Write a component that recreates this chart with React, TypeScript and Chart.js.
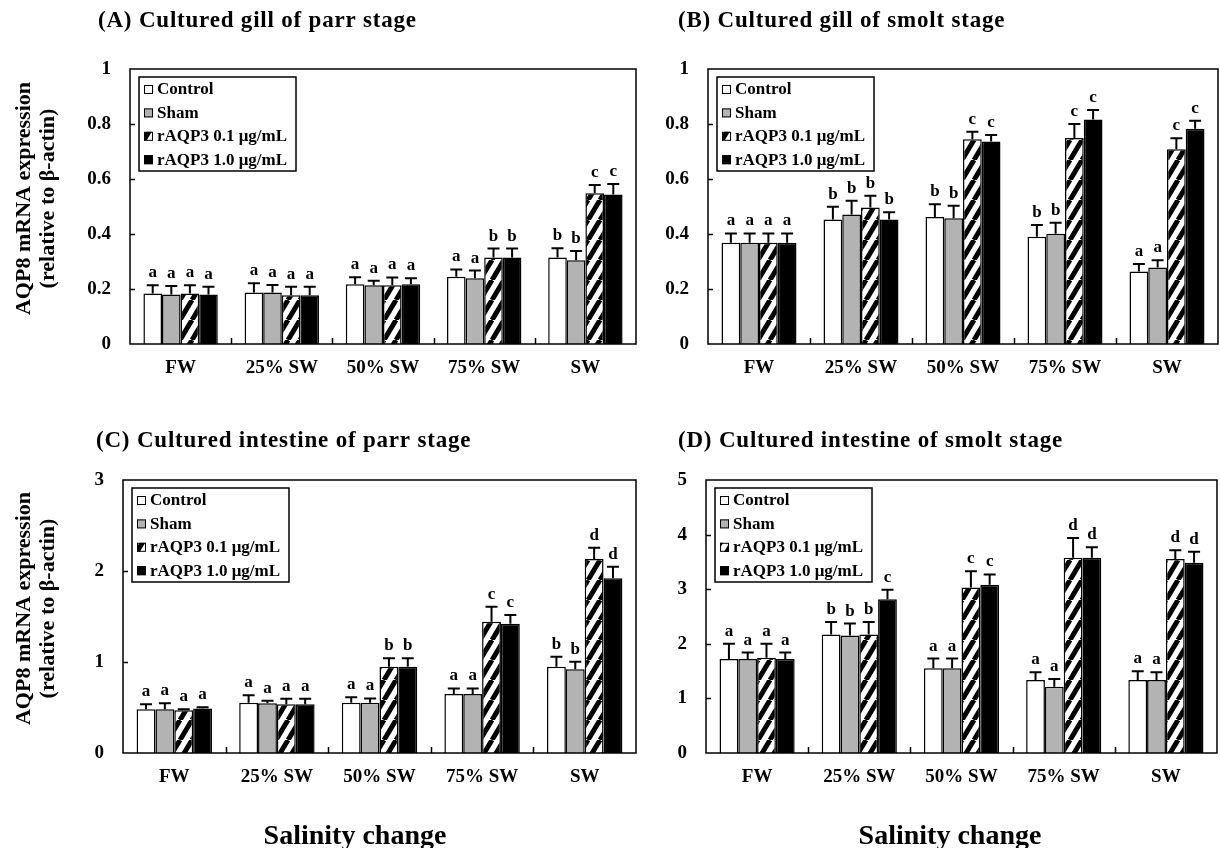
import React, { useEffect, useRef } from "react";
import { Chart, registerables } from "chart.js";
Chart.register(...registerables);

const categories = ["FW", "25% SW", "50% SW", "75% SW", "SW"];
const seriesNames = ["Control", "Sham", "rAQP3 0.1 μg/mL", "rAQP3 1.0 μg/mL"];

// (A) Cultured gill of parr stage
const aControl = [0.184, 0.187, 0.217, 0.245, 0.315];
const aSham = [0.18, 0.187, 0.214, 0.239, 0.305];
const aLow = [0.184, 0.177, 0.214, 0.315, 0.548];
const aHigh = [0.18, 0.177, 0.217, 0.315, 0.544];
const aControlErr = [0.03, 0.034, 0.026, 0.026, 0.033];
const aShamErr = [0.031, 0.028, 0.016, 0.028, 0.033];
const aLowErr = [0.03, 0.031, 0.028, 0.032, 0.03];
const aHighErr = [0.028, 0.031, 0.022, 0.032, 0.038];
const aControlLet = ["a", "a", "a", "a", "b"];
const aShamLet = ["a", "a", "a", "a", "b"];
const aLowLet = ["a", "a", "a", "b", "c"];
const aHighLet = ["a", "a", "a", "b", "c"];

// (B) Cultured gill of smolt stage
const bControl = [0.368, 0.453, 0.462, 0.39, 0.264];
const bSham = [0.368, 0.471, 0.457, 0.401, 0.278];
const bLow = [0.368, 0.496, 0.745, 0.749, 0.708];
const bHigh = [0.368, 0.453, 0.736, 0.816, 0.783];
const bControlErr = [0.034, 0.046, 0.046, 0.043, 0.027];
const bShamErr = [0.034, 0.05, 0.046, 0.04, 0.027];
const bLowErr = [0.034, 0.043, 0.027, 0.051, 0.04];
const bHighErr = [0.034, 0.026, 0.024, 0.035, 0.029];
const bControlLet = ["a", "b", "b", "b", "a"];
const bShamLet = ["a", "b", "b", "b", "a"];
const bLowLet = ["a", "b", "c", "c", "c"];
const bHighLet = ["a", "b", "c", "c", "c"];

// (C) Cultured intestine of parr stage
const cControl = [0.48, 0.553, 0.553, 0.648, 0.949];
const cSham = [0.48, 0.546, 0.553, 0.648, 0.919];
const cLow = [0.47, 0.535, 0.949, 1.443, 2.132];
const cHigh = [0.49, 0.535, 0.949, 1.421, 1.92];
const cControlErr = [0.055, 0.081, 0.059, 0.062, 0.11];
const cShamErr = [0.066, 0.029, 0.047, 0.062, 0.084];
const cLowErr = [0.01, 0.062, 0.091, 0.165, 0.124];
const cHighErr = [0.012, 0.062, 0.091, 0.095, 0.127];
const cControlLet = ["a", "a", "a", "a", "b"];
const cShamLet = ["a", "a", "a", "a", "b"];
const cLowLet = ["a", "a", "b", "c", "d"];
const cHighLet = ["a", "a", "b", "c", "d"];

// (D) Cultured intestine of smolt stage
const dControl = [1.72, 2.17, 1.55, 1.337, 1.337];
const dSham = [1.72, 2.15, 1.55, 1.215, 1.337];
const dLow = [1.745, 2.17, 3.03, 3.577, 3.553];
const dHigh = [1.72, 2.815, 3.08, 3.577, 3.485];
const dControlErr = [0.28, 0.23, 0.18, 0.14, 0.16];
const dShamErr = [0.12, 0.22, 0.18, 0.14, 0.14];
const dLowErr = [0.255, 0.23, 0.3, 0.36, 0.16];
const dHighErr = [0.12, 0.175, 0.19, 0.19, 0.2];
const dControlLet = ["a", "b", "a", "a", "a"];
const dShamLet = ["a", "b", "a", "a", "a"];
const dLowLet = ["a", "b", "c", "d", "d"];
const dHighLet = ["a", "c", "c", "d", "d"];

const yTitleLines = ["AQP8 mRNA expression", "(relative to β-actin)"];
const xTitle = "Salinity change";

const SERIF = "'Liberation Serif', 'Times New Roman', serif";

type Panel = {
  title: string;
  yMax: number;
  yStep: number;
  values: number[][];
  errors: number[][];
  letters: string[][];
  canvas: { left: number; top: number; w: number; h: number };
  area: { l: number; t: number; r: number; b: number };
  titlePos: [number, number];
  yTitle: boolean;
  xTitlePos: [number, number] | null;
};

const panels: Panel[] = [
  {
    title: "(A) Cultured gill of parr stage",
    yMax: 1, yStep: 0.2,
    values: [aControl, aSham, aLow, aHigh],
    errors: [aControlErr, aShamErr, aLowErr, aHighErr],
    letters: [aControlLet, aShamLet, aLowLet, aHighLet],
    canvas: { left: 0, top: 0, w: 650, h: 400 },
    area: { l: 130, t: 69, r: 636, b: 344 },
    titlePos: [98, 27],
    yTitle: true,
    xTitlePos: null,
  },
  {
    title: "(B) Cultured gill of smolt stage",
    yMax: 1, yStep: 0.2,
    values: [bControl, bSham, bLow, bHigh],
    errors: [bControlErr, bShamErr, bLowErr, bHighErr],
    letters: [bControlLet, bShamLet, bLowLet, bHighLet],
    canvas: { left: 650, top: 0, w: 570, h: 400 },
    area: { l: 58, t: 69, r: 568, b: 344 },
    titlePos: [28, 27],
    yTitle: false,
    xTitlePos: null,
  },
  {
    title: "(C) Cultured intestine of parr stage",
    yMax: 3, yStep: 1,
    values: [cControl, cSham, cLow, cHigh],
    errors: [cControlErr, cShamErr, cLowErr, cHighErr],
    letters: [cControlLet, cShamLet, cLowLet, cHighLet],
    canvas: { left: 0, top: 400, w: 650, h: 448 },
    area: { l: 123, t: 80, r: 636, b: 353 },
    titlePos: [96, 47],
    yTitle: true,
    xTitlePos: [355, 444],
  },
  {
    title: "(D) Cultured intestine of smolt stage",
    yMax: 5, yStep: 1,
    values: [dControl, dSham, dLow, dHigh],
    errors: [dControlErr, dShamErr, dLowErr, dHighErr],
    letters: [dControlLet, dShamLet, dLowLet, dHighLet],
    canvas: { left: 650, top: 400, w: 570, h: 448 },
    area: { l: 56, t: 80, r: 567, b: 353 },
    titlePos: [28, 47],
    yTitle: false,
    xTitlePos: [300, 444],
  },
];

function makePattern(): CanvasPattern | string {
  const c = document.createElement("canvas");
  const w = 12, h = 20;
  c.width = w;
  c.height = h;
  const g = c.getContext("2d");
  if (!g) return "#888";
  g.fillStyle = "#fff";
  g.fillRect(0, 0, w, h);
  g.strokeStyle = "#000";
  g.lineWidth = 5;
  for (const dx of [-w, 0, w]) {
    g.beginPath();
    g.moveTo(dx, h);
    g.lineTo(dx + w, 0);
    g.stroke();
  }
  return g.createPattern(c, "repeat") || "#888";
}

function makePlugin(p: Panel, fills: (string | CanvasPattern)[]) {
  return {
    id: "panelExtras",
    afterDraw(chart: any) {
      const ctx: any = chart.ctx;
      const area = chart.chartArea;
      const xs = chart.scales.x;
      const ys = chart.scales.y;
      ctx.save();
      ctx.strokeStyle = "#000";
      ctx.fillStyle = "#000";
      // frame
      ctx.lineWidth = 1.5;
      ctx.strokeRect(area.left, area.top, area.right - area.left, area.bottom - area.top);
      // y ticks (inward)
      for (let v = p.yStep; v < p.yMax - 1e-9; v += p.yStep) {
        const y = Math.round(ys.getPixelForValue(v)) + 0.5;
        ctx.beginPath();
        ctx.moveTo(area.left, y);
        ctx.lineTo(area.left + 5, y);
        ctx.stroke();
      }
      // x category separators (inward)
      for (let i = 1; i < categories.length; i++) {
        const x = Math.round((xs.getPixelForValue(i - 1) + xs.getPixelForValue(i)) / 2) + 0.5;
        ctx.beginPath();
        ctx.moveTo(x, area.bottom);
        ctx.lineTo(x, area.bottom - 6);
        ctx.stroke();
      }
      // error bars and letters
      ctx.font = `bold 17px ${SERIF}`;
      ctx.textAlign = "center";
      ctx.textBaseline = "alphabetic";
      for (let s = 0; s < 4; s++) {
        const meta = chart.getDatasetMeta(s);
        for (let j = 0; j < categories.length; j++) {
          const bar = meta.data[j];
          const x = bar.x;
          const v = p.values[s][j];
          const e = p.errors[s][j];
          const y0 = ys.getPixelForValue(v);
          const y1 = ys.getPixelForValue(v + e);
          ctx.lineWidth = 2;
          ctx.beginPath();
          ctx.moveTo(x, y0);
          ctx.lineTo(x, y1);
          ctx.moveTo(x - 6, y1);
          ctx.lineTo(x + 6, y1);
          ctx.stroke();
          ctx.fillText(p.letters[s][j], x, y1 - 8);
        }
      }
      // legend
      const bx = area.left + 9;
      const by = area.top + 8;
      const bw = 157;
      const bh = 94;
      ctx.lineWidth = 1.5;
      ctx.fillStyle = "#fff";
      ctx.fillRect(bx, by, bw, bh);
      ctx.strokeRect(bx, by, bw, bh);
      ctx.font = `bold 17px ${SERIF}`;
      ctx.textAlign = "left";
      ctx.textBaseline = "middle";
      for (let s = 0; s < 4; s++) {
        const cy = by + 12 + s * 23.4;
        ctx.fillStyle = fills[s];
        ctx.fillRect(bx + 5, cy - 4, 9, 9);
        ctx.lineWidth = 1;
        ctx.strokeRect(bx + 5.5, cy - 3.5, 8, 8);
        ctx.fillStyle = "#000";
        ctx.fillText(seriesNames[s], bx + 18, cy + 1);
      }
      // panel title
      ctx.font = `bold 23px ${SERIF}`;
      ctx.textAlign = "left";
      ctx.textBaseline = "alphabetic";
      if ("letterSpacing" in ctx) ctx.letterSpacing = "0.8px";
      ctx.fillText(p.title, p.titlePos[0], p.titlePos[1]);
      if ("letterSpacing" in ctx) ctx.letterSpacing = "0px";
      // y axis title
      if (p.yTitle) {
        const cy = (area.top + area.bottom) / 2 - 8;
        ctx.font = `bold 22px ${SERIF}`;
        ctx.textAlign = "center";
        ctx.textBaseline = "middle";
        const xsPos = [24, 48];
        for (let k = 0; k < 2; k++) {
          ctx.save();
          ctx.translate(xsPos[k], cy);
          ctx.rotate(-Math.PI / 2);
          ctx.fillText(yTitleLines[k], 0, 0);
          ctx.restore();
        }
      }
      // x axis title
      if (p.xTitlePos !== null) {
        ctx.font = `bold 28px ${SERIF}`;
        ctx.textAlign = "center";
        ctx.textBaseline = "alphabetic";
        ctx.fillText(xTitle, p.xTitlePos[0], p.xTitlePos[1]);
      }
      ctx.restore();
    },
  };
}

function PanelChart({ p }: { p: Panel }) {
  const ref = useRef<HTMLCanvasElement | null>(null);
  useEffect(() => {
    if (!ref.current) return;
    const hatch = makePattern();
    const fills: (string | CanvasPattern)[] = ["#ffffff", "#b3b3b3", hatch, "#000000"];
    const chart = new Chart(ref.current, {
      type: "bar",
      data: {
        labels: categories,
        datasets: seriesNames.map((name, s) => ({
          label: name,
          data: p.values[s],
          backgroundColor: fills[s] as any,
          borderColor: "#000",
          borderWidth: 1.5,
          categoryPercentage: 0.735,
          barPercentage: 1,
        })),
      },
      options: {
        responsive: false,
        animation: false,
        devicePixelRatio: 1,
        layout: {
          padding: {
            left: 0,
            top: p.area.t,
            right: p.canvas.w - p.area.r,
            bottom: 0,
          },
        },
        plugins: {
          legend: { display: false },
          title: { display: false },
          tooltip: { enabled: false },
        },
        scales: {
          x: {
            type: "category",
            grid: { display: false, drawTicks: false },
            border: { display: false },
            ticks: {
              color: "#000",
              font: { family: SERIF, size: 19, weight: "bold" },
              padding: 13,
              maxRotation: 0,
              autoSkip: false,
            },
            afterFit: (scale: any) => {
              scale.height = p.canvas.h - p.area.b;
            },
          },
          y: {
            min: 0,
            max: p.yMax,
            grid: { display: false, drawTicks: false },
            border: { display: false },
            ticks: {
              stepSize: p.yStep,
              color: "#000",
              font: { family: SERIF, size: 19, weight: "bold" },
              padding: 19,
              callback: (v: any) => String(+Number(v).toFixed(1)),
            },
            afterFit: (scale: any) => {
              scale.width = p.area.l;
            },
          },
        },
      },
      plugins: [makePlugin(p, fills)],
    } as any);
    return () => chart.destroy();
  }, [p]);
  return (
    <canvas
      ref={ref}
      width={p.canvas.w}
      height={p.canvas.h}
      style={{
        position: "absolute",
        left: p.canvas.left,
        top: p.canvas.top,
        width: p.canvas.w,
        height: p.canvas.h,
      }}
    />
  );
}

export default function App() {
  return (
    <div
      style={{
        position: "absolute",
        left: 0,
        top: 0,
        width: 1220,
        height: 848,
        background: "#fff",
        overflow: "hidden",
      }}
    >
      {panels.map((p, i) => (
        <PanelChart key={i} p={p} />
      ))}
    </div>
  );
}
